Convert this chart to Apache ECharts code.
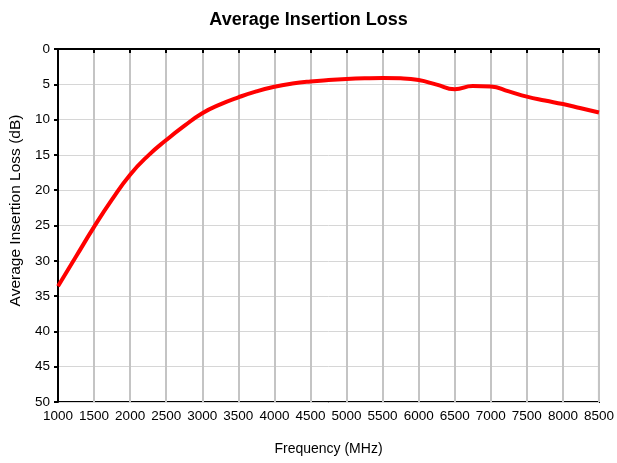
<!DOCTYPE html>
<html><head><meta charset="utf-8">
<script src="https://cdn.jsdelivr.net/npm/echarts@6/dist/echarts.min.js"></script>
<style>html,body{margin:0;padding:0;background:#fff}#c{width:617px;height:463px}</style>
</head><body><div id="c"></div>
<script>
const frequencies = [1000,1250,1500,1750,2000,2250,2500,2750,3000,3250,3500,3750,4000,4250,4500,4750,5000,5250,5500,5750,6000,6250,6500,6750,7000,7250,7500,7750,8000,8250,8500];
const lossValues  = [33.6,29.4,25.2,21.3,17.8,15.1,12.9,10.9,9.1,7.85,6.85,6.0,5.35,4.9,4.6,4.4,4.25,4.15,4.1,4.15,4.4,5.05,5.7,5.25,5.3,6.0,6.75,7.3,7.8,8.4,9.0];
const xTicks = {min:1000,max:8500,step:500};
const yTicks = {min:0,max:50,step:5};
const chart = echarts.init(document.getElementById('c'));
const font = 'Arial, "Liberation Sans", sans-serif';
chart.setOption({
  animation:false,
  title:{text:'Average Insertion Loss',left:'center',top:6,textStyle:{fontFamily:font,fontSize:18,fontWeight:'bold',color:'#000'}},
  grid:{left:58,right:15,top:49,bottom:61,show:true,borderColor:'#000',borderWidth:2},
  xAxis:{type:'value',min:xTicks.min,max:xTicks.max,interval:xTicks.step,
    name:'Frequency (MHz)',nameLocation:'middle',nameGap:40,
    nameTextStyle:{fontFamily:font,fontSize:14,color:'#000'},
    axisLine:{lineStyle:{color:'#000',width:2}},
    axisTick:{show:true,length:4,lineStyle:{color:'#000',width:2}},
    axisLabel:{fontFamily:font,fontSize:13.5,color:'#000',margin:7,formatter:v=>String(v)},
    splitLine:{show:true,lineStyle:{color:'#c4c4c4',width:2}}},
  yAxis:{type:'value',inverse:true,min:yTicks.min,max:yTicks.max,interval:yTicks.step,
    name:'Average Insertion Loss (dB)',nameLocation:'middle',nameGap:32,
    nameTextStyle:{fontFamily:font,fontSize:15.5,color:'#000',padding:[0,0,0,30]},
    axisLine:{show:true,lineStyle:{color:'#000',width:2}},
    axisTick:{show:true,length:4,lineStyle:{color:'#000',width:2}},
    axisLabel:{fontFamily:font,fontSize:13.5,color:'#000',margin:8},
    splitLine:{show:true,lineStyle:{color:'#d6d6d6',width:1}}},
  series:[{type:'line',data:frequencies.map((f,i)=>[f,lossValues[i]]),smooth:0.5,showSymbol:false,
    lineStyle:{color:'#ff0000',width:4},clip:true}]
});
</script></body></html>
